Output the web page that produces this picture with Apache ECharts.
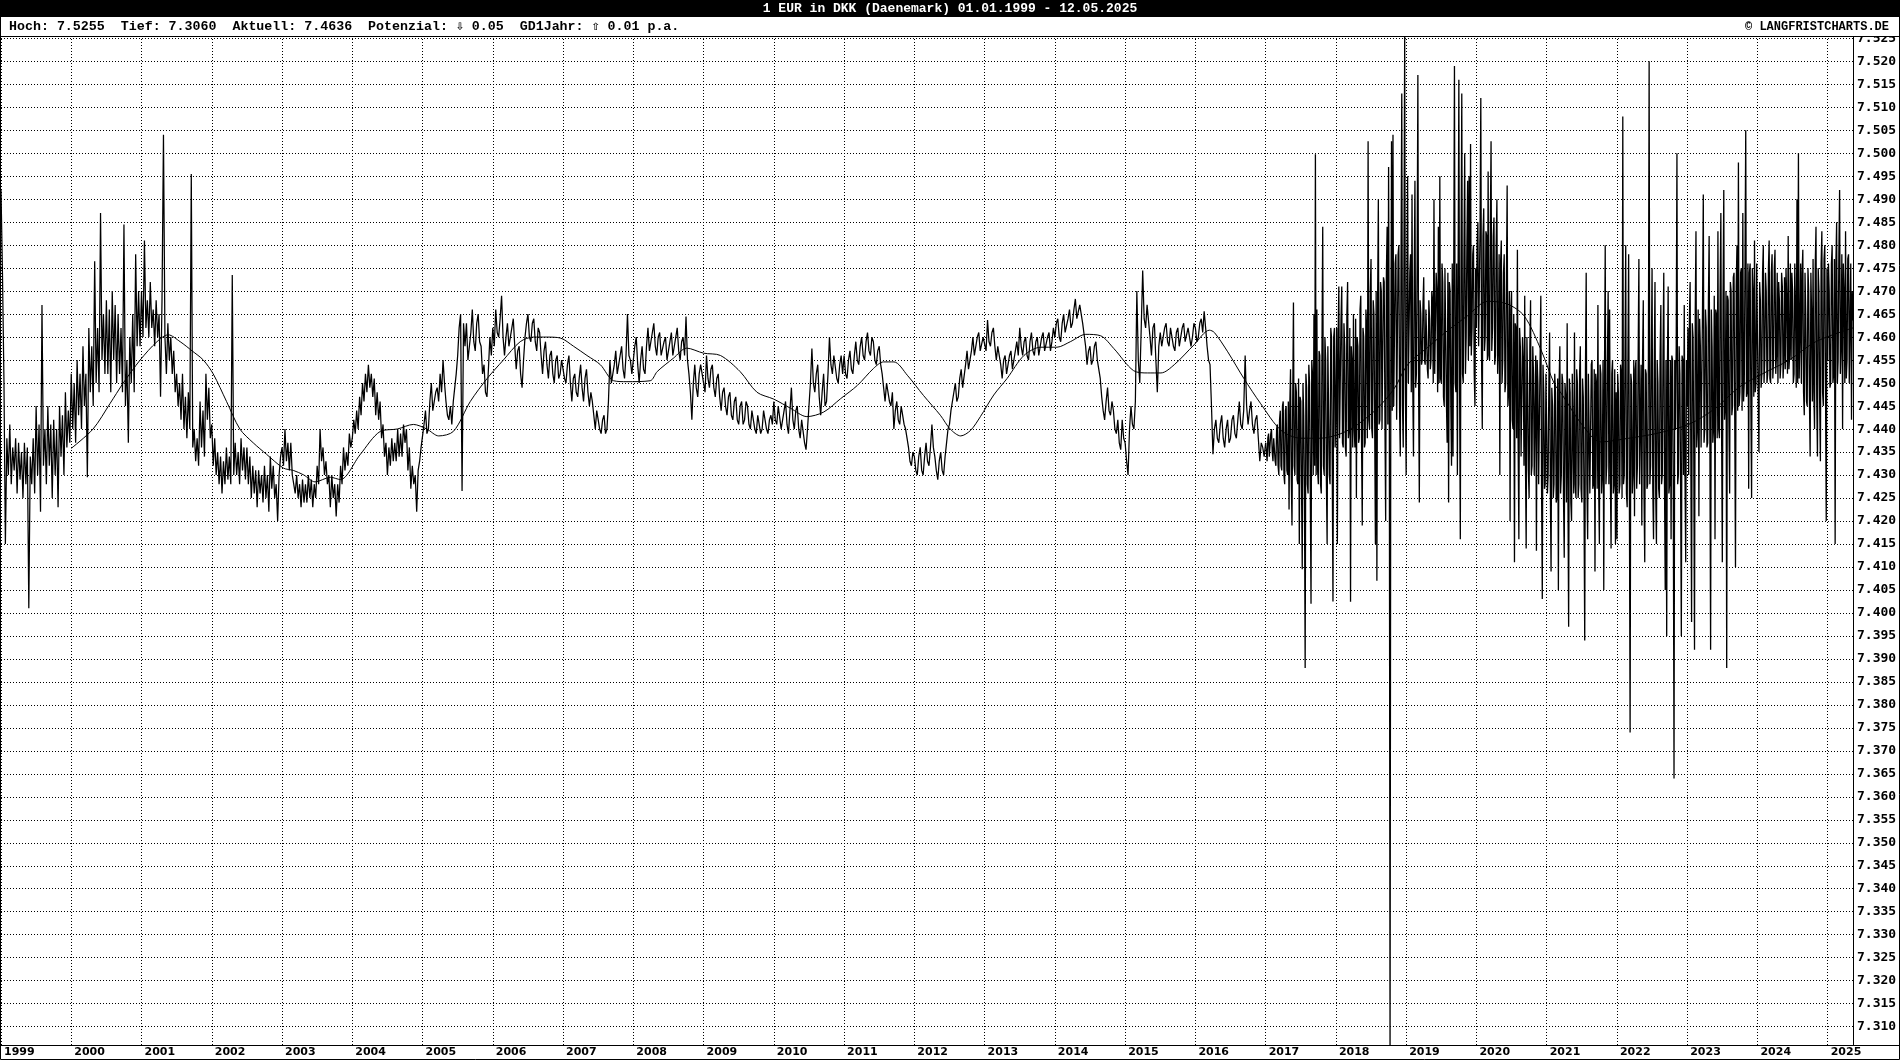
<!DOCTYPE html>
<html><head><meta charset="utf-8">
<script src="https://cdn.jsdelivr.net/npm/echarts@6/dist/echarts.min.js"></script>
<style>html,body{margin:0;padding:0;background:#fff}#c{width:1900px;height:1060px}</style>
</head><body><div id="c"></div>
<script>
const TITLE = '1 EUR in DKK (Daenemark) 01.01.1999 - 12.05.2025';
const INFO = 'Hoch: 7.5255  Tief: 7.3060  Aktuell: 7.4636  Potenzial: \u21E9 0.05  GD1Jahr: \u21E7 0.01 p.a.';
const COPY = '\u00A9 LANGFRISTCHARTS.DE';
const START_YEAR = 1999;
const END_YEAR = 2025.36; // 12.05.2025

// exchange-rate path (alternating highs / lows)
// 1999-2016: 48 readings per year
const p1999 = [7.492,7.474,7.451,7.415,7.438,7.430,7.441,7.428,7.436,7.431,7.438,7.426,7.437,7.429,7.435,7.425,7.437,7.428,7.436,7.401,7.434,7.428,7.438,7.426,7.445,7.430,7.441,7.422,7.467,7.432,7.440,7.428,7.445,7.432,7.441,7.425,7.442,7.430,7.440,7.423,7.445,7.434,7.443,7.430,7.448,7.436,7.444,7.437];
const p2000 = [7.452,7.440,7.450,7.437,7.455,7.443,7.452,7.440,7.458,7.445,7.452,7.4295,7.462,7.448,7.458,7.445,7.4765,7.450,7.462,7.448,7.487,7.455,7.465,7.452,7.468,7.452,7.466,7.448,7.470,7.455,7.467,7.450,7.465,7.452,7.462,7.448,7.4845,7.445,7.455,7.437,7.460,7.450,7.465,7.448,7.478,7.458,7.470,7.458];
const p2001 = [7.470,7.460,7.481,7.462,7.468,7.460,7.472,7.462,7.466,7.458,7.468,7.460,7.465,7.447,7.468,7.504,7.460,7.452,7.463,7.455,7.460,7.452,7.457,7.448,7.452,7.445,7.450,7.442,7.452,7.440,7.447,7.438,7.448,7.440,7.4955,7.436,7.440,7.433,7.438,7.432,7.446,7.436,7.444,7.434,7.452,7.442,7.449,7.438];
const p2002 = [7.441,7.432,7.438,7.430,7.435,7.428,7.434,7.426,7.433,7.428,7.436,7.429,7.434,7.428,7.4735,7.430,7.437,7.430,7.435,7.428,7.438,7.431,7.436,7.429,7.436,7.428,7.434,7.425,7.432,7.426,7.431,7.423,7.431,7.426,7.430,7.424,7.432,7.425,7.430,7.422,7.434,7.427,7.432,7.425,7.428,7.420,7.430,7.434];
const p2003 = [7.436,7.432,7.440,7.433,7.437,7.431,7.437,7.430,7.430,7.426,7.430,7.425,7.428,7.423,7.429,7.424,7.428,7.424,7.430,7.425,7.429,7.423,7.428,7.425,7.432,7.428,7.440,7.433,7.436,7.430,7.433,7.428,7.430,7.423,7.430,7.425,7.428,7.421,7.428,7.424,7.432,7.428,7.436,7.431,7.435,7.432,7.439,7.436];
const p2004 = [7.438,7.442,7.439,7.444,7.440,7.447,7.443,7.450,7.446,7.452,7.448,7.454,7.449,7.452,7.447,7.451,7.443,7.448,7.442,7.446,7.438,7.441,7.434,7.437,7.430,7.436,7.432,7.438,7.433,7.437,7.433,7.440,7.434,7.439,7.434,7.441,7.437,7.440,7.431,7.436,7.427,7.432,7.428,7.430,7.422,7.431,7.433,7.436];
const p2005 = [7.436,7.441,7.444,7.439,7.440,7.446,7.450,7.444,7.444,7.448,7.449,7.446,7.452,7.448,7.455,7.450,7.446,7.443,7.442,7.445,7.441,7.446,7.449,7.452,7.456,7.462,7.465,7.4265,7.463,7.458,7.463,7.455,7.455,7.461,7.466,7.459,7.457,7.463,7.465,7.459,7.458,7.452,7.454,7.448,7.447,7.453,7.460,7.456];
const p2006 = [7.462,7.458,7.466,7.461,7.460,7.464,7.469,7.460,7.456,7.460,7.463,7.458,7.458,7.462,7.464,7.458,7.453,7.457,7.458,7.452,7.449,7.455,7.460,7.463,7.465,7.460,7.459,7.463,7.464,7.459,7.457,7.462,7.461,7.456,7.452,7.457,7.459,7.454,7.451,7.456,7.457,7.452,7.450,7.455,7.456,7.451,7.452,7.455];
const p2007 = [7.455,7.451,7.450,7.454,7.456,7.450,7.446,7.451,7.452,7.448,7.447,7.451,7.454,7.449,7.446,7.451,7.453,7.448,7.445,7.448,7.446,7.443,7.440,7.444,7.444,7.440,7.439,7.442,7.443,7.439,7.440,7.446,7.455,7.450,7.450,7.454,7.457,7.452,7.452,7.456,7.458,7.453,7.451,7.456,7.465,7.456,7.455,7.452];
const p2008 = [7.455,7.458,7.460,7.454,7.450,7.455,7.458,7.453,7.452,7.458,7.462,7.457,7.457,7.461,7.463,7.458,7.456,7.460,7.461,7.456,7.456,7.459,7.460,7.455,7.455,7.459,7.461,7.456,7.456,7.460,7.462,7.457,7.455,7.459,7.460,7.456,7.4645,7.455,7.452,7.448,7.442,7.450,7.454,7.449,7.447,7.452,7.454,7.452];
const p2009 = [7.452,7.448,7.456,7.451,7.449,7.453,7.454,7.449,7.447,7.451,7.452,7.447,7.444,7.448,7.449,7.445,7.443,7.447,7.448,7.443,7.442,7.446,7.447,7.442,7.441,7.445,7.446,7.441,7.442,7.446,7.445,7.441,7.440,7.444,7.444,7.440,7.439,7.443,7.443,7.439,7.440,7.444,7.444,7.440,7.439,7.442,7.443,7.441];
const p2010 = [7.446,7.442,7.441,7.445,7.445,7.440,7.440,7.444,7.446,7.441,7.439,7.444,7.449,7.442,7.440,7.444,7.445,7.440,7.438,7.442,7.442,7.437,7.4355,7.440,7.445,7.450,7.4575,7.450,7.448,7.452,7.454,7.447,7.443,7.448,7.452,7.445,7.446,7.452,7.460,7.454,7.452,7.456,7.456,7.451,7.450,7.454,7.456,7.452];
const p2011 = [7.456,7.452,7.451,7.455,7.457,7.453,7.452,7.456,7.459,7.455,7.454,7.458,7.460,7.456,7.455,7.459,7.461,7.457,7.456,7.460,7.459,7.455,7.454,7.457,7.458,7.454,7.452,7.449,7.446,7.450,7.450,7.446,7.445,7.448,7.440,7.444,7.446,7.442,7.441,7.445,7.445,7.441,7.440,7.438,7.436,7.433,7.432,7.435];
const p2012 = [7.434,7.431,7.430,7.434,7.436,7.431,7.430,7.434,7.437,7.433,7.432,7.436,7.441,7.436,7.434,7.431,7.429,7.433,7.435,7.431,7.430,7.434,7.437,7.440,7.441,7.444,7.444,7.448,7.450,7.446,7.447,7.451,7.453,7.449,7.449,7.454,7.457,7.453,7.453,7.457,7.460,7.456,7.456,7.460,7.461,7.457,7.457,7.460];
const p2013 = [7.460,7.457,7.4637,7.459,7.458,7.461,7.462,7.458,7.455,7.458,7.458,7.454,7.451,7.455,7.456,7.452,7.452,7.456,7.457,7.453,7.453,7.457,7.459,7.456,7.462,7.458,7.456,7.459,7.460,7.456,7.455,7.459,7.461,7.457,7.456,7.459,7.460,7.456,7.456,7.460,7.461,7.457,7.457,7.460,7.461,7.457,7.459,7.462];
const p2014 = [7.460,7.463,7.464,7.460,7.459,7.463,7.465,7.461,7.461,7.464,7.466,7.462,7.463,7.466,7.4683,7.464,7.464,7.467,7.467,7.463,7.463,7.458,7.454,7.457,7.458,7.454,7.455,7.458,7.459,7.455,7.455,7.451,7.447,7.444,7.442,7.446,7.449,7.444,7.443,7.446,7.444,7.440,7.439,7.442,7.437,7.4355,7.442,7.438];
const p2015 = [7.437,7.433,7.430,7.440,7.445,7.441,7.440,7.446,7.470,7.455,7.450,7.462,7.4745,7.464,7.462,7.467,7.467,7.460,7.456,7.462,7.463,7.455,7.448,7.458,7.461,7.458,7.458,7.462,7.463,7.459,7.458,7.462,7.462,7.458,7.457,7.461,7.462,7.458,7.458,7.462,7.463,7.459,7.459,7.462,7.462,7.458,7.460,7.463];
const p2016 = [7.462,7.459,7.460,7.463,7.464,7.461,7.4656,7.462,7.458,7.455,7.454,7.445,7.4345,7.440,7.442,7.438,7.437,7.441,7.443,7.438,7.436,7.440,7.442,7.437,7.438,7.442,7.443,7.439,7.438,7.442,7.446,7.441,7.440,7.444,7.456,7.445,7.441,7.444,7.446,7.441,7.439,7.442,7.443,7.438,7.433,7.437,7.436,7.434];
// 2017-2025: 96 readings per year (dense swings)
const p2017 = [7.437,7.435,7.433,7.438,7.439,7.434,7.434,7.439,7.440,7.435,7.433,7.438,7.438,7.433,7.432,7.440,
 7.441,7.432,7.430,7.442,7.444,7.432,7.431,7.445,7.446,7.430,7.428,7.444,7.445,7.431,7.430,7.446,
 7.4225,7.445,7.453,7.430,7.419,7.446,7.4675,7.432,7.430,7.450,7.448,7.429,7.428,7.451,7.415,7.447,
 7.446,7.428,7.4095,7.450,7.443,7.427,7.388,7.452,7.449,7.428,7.426,7.454,7.450,7.427,7.402,7.455,
 7.452,7.430,7.465,7.432,7.4998,7.430,7.466,7.431,7.428,7.457,7.456,7.428,7.426,7.458,7.484,7.432,
 7.430,7.460,7.455,7.429,7.415,7.458,7.458,7.430,7.428,7.462,7.460,7.432,7.4025,7.460,7.462,7.436];
const p2018 = [7.445,7.462,7.415,7.460,7.471,7.438,7.438,7.464,7.471,7.437,7.436,7.463,7.458,7.436,7.434,7.465,
 7.472,7.438,7.440,7.462,7.4024,7.458,7.455,7.436,7.465,7.440,7.436,7.464,7.425,7.460,7.458,7.437,
 7.438,7.466,7.469,7.438,7.419,7.462,7.460,7.436,7.437,7.466,7.462,7.438,7.5026,7.442,7.440,7.470,
 7.477,7.440,7.438,7.468,7.465,7.441,7.415,7.470,7.407,7.468,7.490,7.441,7.442,7.472,7.470,7.440,
 7.440,7.473,7.472,7.442,7.420,7.474,7.484,7.441,7.497,7.445,7.306,7.450,7.5026,7.444,7.504,7.445,
 7.445,7.476,7.478,7.442,7.442,7.478,7.480,7.444,7.434,7.476,7.513,7.445,7.436,7.477,7.5255,7.448];
const p2019 = [7.430,7.470,7.495,7.450,7.450,7.474,7.478,7.448,7.491,7.450,7.434,7.472,7.494,7.449,7.452,7.476,
 7.517,7.450,7.424,7.468,7.465,7.454,7.455,7.467,7.473,7.455,7.454,7.466,7.466,7.453,7.451,7.468,
 7.464,7.453,7.455,7.470,7.468,7.450,7.490,7.452,7.452,7.474,7.470,7.448,7.484,7.450,7.495,7.451,
 7.450,7.476,7.472,7.447,7.445,7.475,7.475,7.446,7.437,7.474,7.424,7.472,7.470,7.446,7.432,7.476,
 7.434,7.474,7.519,7.450,7.448,7.476,7.430,7.474,7.516,7.450,7.416,7.476,7.513,7.452,7.450,7.478,
 7.500,7.452,7.460,7.480,7.494,7.455,7.495,7.458,7.502,7.456,7.462,7.478,7.480,7.452,7.445,7.475];
const p2020 = [7.462,7.480,7.485,7.458,7.458,7.484,7.512,7.456,7.440,7.482,7.488,7.457,7.460,7.483,7.482,7.455,
 7.496,7.456,7.455,7.484,7.5026,7.457,7.462,7.482,7.486,7.454,7.456,7.480,7.490,7.452,7.458,7.478,
 7.430,7.476,7.481,7.450,7.455,7.474,7.478,7.448,7.450,7.472,7.493,7.445,7.448,7.470,7.420,7.466,
 7.470,7.442,7.440,7.465,7.411,7.463,7.462,7.438,7.479,7.437,7.416,7.462,7.458,7.434,7.434,7.460,
 7.455,7.432,7.469,7.433,7.414,7.460,7.450,7.431,7.425,7.458,7.468,7.430,7.432,7.458,7.452,7.430,
 7.430,7.456,7.4135,7.455,7.450,7.428,7.428,7.455,7.469,7.428,7.403,7.454,7.448,7.427,7.428,7.452];
const p2021 = [7.440,7.426,7.430,7.450,7.461,7.427,7.409,7.449,7.445,7.425,7.428,7.452,7.448,7.424,7.425,7.451,
 7.405,7.450,7.458,7.426,7.430,7.452,7.450,7.425,7.412,7.450,7.447,7.424,7.463,7.428,7.397,7.451,
 7.448,7.424,7.420,7.452,7.452,7.426,7.461,7.428,7.425,7.453,7.450,7.425,7.428,7.452,7.458,7.427,
 7.424,7.451,7.447,7.425,7.394,7.453,7.474,7.428,7.416,7.452,7.452,7.426,7.426,7.454,7.455,7.427,
 7.428,7.453,7.409,7.452,7.450,7.427,7.467,7.428,7.415,7.454,7.452,7.426,7.430,7.455,7.405,7.452,
 7.480,7.428,7.432,7.455,7.470,7.428,7.466,7.430,7.414,7.452,7.455,7.426,7.428,7.453,7.415,7.448];
const p2022 = [7.416,7.452,7.448,7.426,7.428,7.454,7.452,7.425,7.508,7.428,7.430,7.455,7.480,7.426,7.423,7.454,
 7.478,7.428,7.374,7.452,7.450,7.426,7.430,7.455,7.421,7.453,7.455,7.427,7.432,7.456,7.477,7.428,
 7.428,7.454,7.419,7.455,7.468,7.426,7.411,7.453,7.452,7.427,7.428,7.456,7.520,7.428,7.432,7.455,
 7.475,7.427,7.416,7.454,7.472,7.426,7.415,7.455,7.450,7.427,7.425,7.456,7.467,7.428,7.430,7.457,
 7.474,7.428,7.405,7.455,7.395,7.454,7.471,7.426,7.428,7.455,7.416,7.456,7.455,7.427,7.364,7.455,
 7.440,7.458,7.500,7.428,7.430,7.458,7.452,7.428,7.395,7.456,7.455,7.430,7.467,7.430,7.411,7.455];
const p2023 = [7.445,7.462,7.430,7.464,7.472,7.434,7.398,7.463,7.460,7.435,7.392,7.465,7.483,7.436,7.440,7.466,
 7.421,7.464,7.458,7.436,7.436,7.467,7.491,7.437,7.440,7.466,7.462,7.436,7.437,7.468,7.482,7.438,
 7.392,7.466,7.458,7.437,7.440,7.469,7.416,7.466,7.465,7.438,7.483,7.440,7.438,7.470,7.487,7.440,
 7.411,7.468,7.492,7.442,7.445,7.470,7.388,7.469,7.468,7.442,7.426,7.472,7.470,7.443,7.445,7.473,
 7.474,7.442,7.410,7.471,7.480,7.444,7.498,7.445,7.448,7.474,7.475,7.444,7.487,7.446,7.450,7.476,
 7.505,7.447,7.448,7.476,7.427,7.474,7.476,7.446,7.425,7.475,7.470,7.447,7.481,7.448,7.450,7.476];
const p2024 = [7.460,7.448,7.435,7.472,7.468,7.449,7.452,7.474,7.480,7.450,7.455,7.474,7.470,7.450,7.452,7.475,
 7.481,7.451,7.450,7.474,7.478,7.451,7.455,7.475,7.479,7.452,7.456,7.474,7.450,7.472,7.468,7.451,
 7.454,7.474,7.471,7.451,7.455,7.473,7.453,7.475,7.468,7.452,7.482,7.453,7.456,7.476,7.455,7.474,
 7.470,7.450,7.452,7.476,7.466,7.449,7.490,7.450,7.500,7.451,7.460,7.476,7.450,7.474,7.479,7.448,
 7.443,7.474,7.465,7.446,7.445,7.475,7.470,7.447,7.434,7.474,7.465,7.446,7.477,7.448,7.440,7.476,
 7.484,7.447,7.434,7.475,7.470,7.446,7.433,7.476,7.483,7.448,7.445,7.477,7.480,7.449,7.420,7.475];
const p2025 = [7.455,7.476,7.470,7.449,7.450,7.476,7.480,7.450,7.452,7.477,7.415,7.476,7.485,7.450,7.455,7.478,
 7.492,7.452,7.458,7.478,7.440,7.476,7.470,7.450,7.483,7.451,7.455,7.477,7.478,7.450,7.450,7.476,
 7.442,7.470,7.4636];

// moving average (GD)
const maYear = [2000.0,2000.31,2000.55,2000.74,2000.98,2001.22,2001.38,2001.55,2001.72,2001.88,2002.02,2002.21,2002.40,2002.59,2002.78,2003.02,2003.16,2003.31,2003.47,2003.69,2003.83,2004.11,2004.40,2004.64,2004.87,2005.06,2005.23,2005.44,2005.68,2005.92,2006.15,2006.39,2006.58,2006.77,2006.96,2007.15,2007.34,2007.53,2007.72,2007.91,2008.24,2008.34,2008.57,2008.76,2009.0,2009.24,2009.52,2009.76,2010.0,2010.24,2010.47,2010.71,2010.95,2011.19,2011.42,2011.56,2011.71,2011.90,2012.13,2012.37,2012.51,2012.66,2012.80,2012.94,2013.13,2013.32,2013.56,2013.80,2014.03,2014.22,2014.44,2014.65,2014.84,2015.12,2015.32,2015.51,2015.70,2015.98,2016.20,2016.27,2016.46,2016.69,2016.93,2017.22,2017.50,2017.78,2018.07,2018.31,2018.59,2018.83,2019.02,2019.30,2019.59,2019.87,2020.16,2020.44,2020.68,2020.92,2021.11,2021.21,2021.50,2021.77,2022.17,2022.55,2023.02,2023.40,2023.73,2024.07,2024.45,2024.83,2025.36];
const maVal = [7.4358,7.440,7.4455,7.450,7.455,7.459,7.4605,7.459,7.457,7.455,7.452,7.446,7.440,7.437,7.4345,7.4315,7.431,7.430,7.4285,7.4295,7.429,7.4344,7.4395,7.440,7.441,7.440,7.4385,7.4395,7.446,7.451,7.455,7.459,7.460,7.460,7.4598,7.458,7.456,7.454,7.4505,7.4503,7.4505,7.4525,7.4554,7.4576,7.4565,7.456,7.4525,7.448,7.4465,7.4445,7.4427,7.4437,7.4466,7.4495,7.4532,7.4546,7.4546,7.4517,7.4473,7.443,7.440,7.4385,7.4397,7.4427,7.4474,7.451,7.456,7.4578,7.4578,7.459,7.4606,7.4603,7.4575,7.4527,7.4522,7.4522,7.454,7.4583,7.4615,7.461,7.4568,7.451,7.4455,7.4397,7.438,7.438,7.439,7.441,7.4445,7.4488,7.454,7.4577,7.4614,7.4646,7.4678,7.4672,7.4646,7.4572,7.4498,7.4477,7.441,7.4372,7.438,7.439,7.441,7.4445,7.449,7.452,7.455,7.459,7.462];

const calmYears = [[1999,p1999],[2000,p2000],[2001,p2001],[2002,p2002],[2003,p2003],[2004,p2004],[2005,p2005],[2006,p2006],[2007,p2007],[2008,p2008],[2009,p2009],[2010,p2010],[2011,p2011],[2012,p2012],[2013,p2013],[2014,p2014],[2015,p2015],[2016,p2016]];
const noisyYears = [[2017,p2017],[2018,p2018],[2019,p2019],[2020,p2020],[2021,p2021],[2022,p2022],[2023,p2023],[2024,p2024],[2025,p2025]];
function build(list) {
  const out = [];
  list.forEach(([y, arr]) => {
    const last = y === 2025;
    const span = last ? END_YEAR - y : 1;
    const n = last ? arr.length - 1 : arr.length;
    arr.forEach((v, i) => out.push([y + i * span / n, v]));
  });
  return out;
}
const priceCalm = build(calmYears);
const priceNoisy = build(noisyYears);
priceCalm.push(priceNoisy[0]);
const ma = maYear.map((y, i) => [y, maVal[i]]);

const chart = echarts.init(document.getElementById('c'), null, {renderer: 'canvas'});
const MONO = '"Liberation Mono","DejaVu Sans Mono",monospace';
chart.setOption({
  animation: false,
  backgroundColor: '#fff',
  grid: [
    {left: 1, right: 47, top: 36, bottom: 15},
    {left: 1, right: 47, top: 15.5, bottom: 10.4}
  ],
  xAxis: [
    {gridIndex: 0, type: 'value', min: START_YEAR, max: END_YEAR, interval: 1,
     axisLine: {show: true, lineStyle: {color: '#000', width: 1}},
     axisTick: {show: false},
     axisLabel: {show: true, align: 'left', margin: 2, padding: [0, 0, 0, 3], color: '#000',
       fontFamily: 'DejaVu Sans', fontWeight: 'bold', fontSize: 11, showMaxLabel: false, showMinLabel: true,
       formatter: v => Number.isInteger(v) ? String(v) : ''},
     splitLine: {show: true, lineStyle: {color: '#000', width: 1, type: [1, 2]}}},
    {gridIndex: 1, type: 'value', min: START_YEAR, max: END_YEAR, show: false}
  ],
  yAxis: [
    {gridIndex: 0, type: 'value', position: 'right', min: 7.306, max: 7.5255,
     axisLine: {show: true, lineStyle: {color: '#000', width: 1}}, axisTick: {show: false},
     axisLabel: {show: false}, splitLine: {show: false}},
    {gridIndex: 1, type: 'value', position: 'right', min: 7.305, max: 7.530, interval: 0.005,
     axisLine: {show: false}, axisTick: {show: false},
     axisLabel: {margin: 4, color: '#000', fontFamily: 'DejaVu Sans Mono', fontWeight: 'bold', fontSize: 13,
       showMinLabel: false, showMaxLabel: false, formatter: v => v.toFixed(3)},
     splitLine: {show: true, showMinLine: false, showMaxLine: false, lineStyle: {color: '#000', width: 1, type: [1, 2]}}}
  ],
  series: [
    {type: 'line', xAxisIndex: 0, yAxisIndex: 0, data: priceCalm, symbol: 'none', showSymbol: false,
     lineStyle: {color: '#000', width: 1.25}, silent: true, clip: true, z: 3},
    {type: 'line', xAxisIndex: 0, yAxisIndex: 0, data: priceNoisy, symbol: 'none', showSymbol: false,
     lineStyle: {color: '#000', width: 1.3}, silent: true, clip: true, z: 3},
    {type: 'line', xAxisIndex: 0, yAxisIndex: 0, data: ma, symbol: 'none', showSymbol: false, smooth: 0.3,
     lineStyle: {color: '#000', width: 1}, silent: true, clip: true, z: 4},
    {type: 'line', xAxisIndex: 1, yAxisIndex: 1, data: [], symbol: 'none', silent: true}
  ],
  graphic: [
    {type: 'rect', z: 100, shape: {x: 0, y: 0, width: 1900, height: 17}, style: {fill: '#000'}},
    {type: 'rect', z: 100, shape: {x: 0, y: 17, width: 1900, height: 19}, style: {fill: '#fff'}},
    {type: 'line', z: 101, shape: {x1: 0, y1: 36.5, x2: 1900, y2: 36.5}, style: {stroke: '#000', lineWidth: 1}},
    {type: 'line', z: 101, shape: {x1: 0, y1: 1045.5, x2: 1900, y2: 1045.5}, style: {stroke: '#000', lineWidth: 1}},
    {type: 'rect', z: 101, shape: {x: 0.5, y: 0.5, width: 1899, height: 1059}, style: {fill: null, stroke: '#000', lineWidth: 1}},
    {type: 'text', z: 102, x: 950, y: 9, style: {text: TITLE, fill: '#fff', font: 'bold 13px ' + MONO, align: 'center', verticalAlign: 'middle', textAlign: 'center', textVerticalAlign: 'middle'}},
    {type: 'text', z: 102, x: 9, y: 27, style: {text: INFO, fill: '#000', font: 'bold 13.3px ' + MONO, align: 'left', verticalAlign: 'middle', textAlign: 'left', textVerticalAlign: 'middle'}},
    {type: 'text', z: 102, x: 1889, y: 27, style: {text: COPY, fill: '#000', font: 'bold 12px ' + MONO, align: 'right', verticalAlign: 'middle', textAlign: 'right', textVerticalAlign: 'middle'}}
  ]
});
</script></body></html>
